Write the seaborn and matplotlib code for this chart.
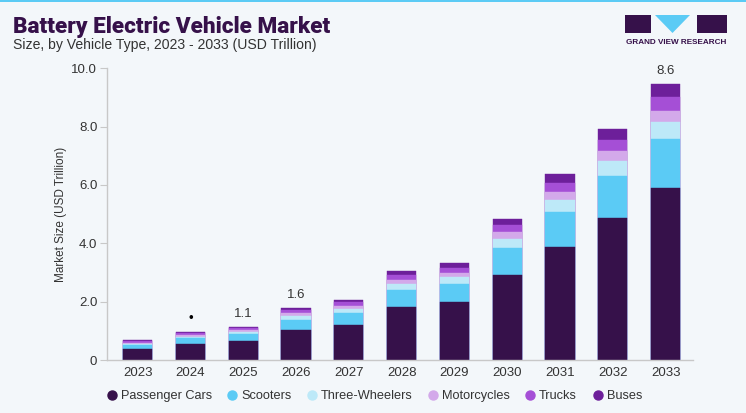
import numpy as np
import pandas as pd
import matplotlib
matplotlib.use("Agg")
import matplotlib.pyplot as plt
from matplotlib.lines import Line2D
from matplotlib.patches import Rectangle, Polygon
import seaborn as sns

years = ["2023", "2024", "2025", "2026", "2027", "2028", "2029", "2030", "2031", "2032", "2033"]
passenger_cars = [0.37, 0.55, 0.65, 1.02, 1.20, 1.81, 1.98, 2.91, 3.88, 4.87, 5.89]
scooters = [0.15, 0.20, 0.25, 0.36, 0.42, 0.60, 0.64, 0.93, 1.19, 1.44, 1.69]
three_wheelers = [0.035, 0.055, 0.07, 0.13, 0.14, 0.20, 0.23, 0.31, 0.41, 0.51, 0.59]
motorcycles = [0.035, 0.05, 0.06, 0.09, 0.10, 0.15, 0.15, 0.23, 0.27, 0.33, 0.38]
trucks = [0.045, 0.07, 0.07, 0.10, 0.12, 0.16, 0.17, 0.25, 0.33, 0.39, 0.48]
buses = [0.035, 0.045, 0.045, 0.07, 0.08, 0.14, 0.16, 0.22, 0.29, 0.37, 0.43]
bar_labels = ["", "\u2022", "1.1", "1.6", "", "", "", "", "", "", "8.6"]

segments = ["Passenger Cars", "Scooters", "Three-Wheelers", "Motorcycles", "Trucks", "Buses"]
colors = ["#36114A", "#5BCBF5", "#BDE9F8", "#D3A9EA", "#A54FD6", "#6D1F9A"]

df = pd.DataFrame({
    "year": years,
    "Passenger Cars": passenger_cars,
    "Scooters": scooters,
    "Three-Wheelers": three_wheelers,
    "Motorcycles": motorcycles,
    "Trucks": trucks,
    "Buses": buses,
})
cum = df[segments].cumsum(axis=1)
cum["year"] = df["year"]

bg = "#F3F7FA"
sns.set_style("white")
plt.rcParams["font.family"] = ["Liberation Sans", "DejaVu Sans"]

fig = plt.figure(figsize=(7.46, 4.13), dpi=100, facecolor=bg)
ax = fig.add_axes([0.1434, 0.1283, 0.929 - 0.1434, 0.8346 - 0.1283])
ax.set_facecolor(bg)

# stacked bars: draw cumulative totals from the top segment down
for seg, col in reversed(list(zip(segments, colors))):
    sns.barplot(data=cum, x="year", y=seg, color=col, width=0.55,
                saturation=1, edgecolor=col, linewidth=0.3, ax=ax)

totals = cum["Buses"].values
for i, lab in enumerate(bar_labels):
    if lab:
        ax.annotate(lab, (i, totals[i]), xytext=(0, 5), textcoords="offset points",
                    ha="center", va="bottom", fontsize=9.5,
                    color="black" if lab == "\u2022" else "#333333")

ax.set_xlim(-0.58, 10.52)
ax.set_ylim(0, 10)
ax.set_yticks([0, 2, 4, 6, 8, 10])
ax.set_yticklabels(["0", "2.0", "4.0", "6.0", "8.0", "10.0"])
ax.set_xlabel("")
ax.set_ylabel("Market Size (USD Trillion)", fontsize=8.5, color="#333333", labelpad=3)
ax.tick_params(axis="y", length=5, width=0.8, color="#C8C8C8", labelsize=9.5,
               labelcolor="#333333", pad=2, left=True)
ax.tick_params(axis="x", length=0, labelsize=9.5, labelcolor="#333333", pad=5)
for s in ["top", "right"]:
    ax.spines[s].set_visible(False)
for s in ["left", "bottom"]:
    ax.spines[s].set_color("#C8C8C8")
    ax.spines[s].set_linewidth(1)

# title block
fig.add_artist(Rectangle((0, 1 - 2 / 413), 1, 2 / 413, transform=fig.transFigure,
                         color="#5BCBF5", lw=0))
fig.text(13 / 746, 1 - 32.5 / 413, "Battery Electric Vehicle Market", fontsize=16.2,
         fontweight="black", family=["Roboto", "DejaVu Sans"], color="#36114A",
         ha="left", va="baseline")
fig.text(13 / 746, 1 - 49 / 413, "Size, by Vehicle Type, 2023 - 2033 (USD Trillion)",
         fontsize=10.1, color="#333333", ha="left", va="baseline")

# logo
def fx(x):
    return x / 746

def fy(y):
    return 1 - y / 413

fig.add_artist(Rectangle((fx(625), fy(33)), fx(26), 18 / 413, transform=fig.transFigure,
                         color="#36114A", lw=0))
fig.add_artist(Polygon([(fx(655), fy(15)), (fx(690), fy(15)), (fx(672.5), fy(33))],
                       closed=True, transform=fig.transFigure, color="#5BCBF5", lw=0))
fig.add_artist(Rectangle((fx(697), fy(33)), fx(30), 18 / 413, transform=fig.transFigure,
                         color="#36114A", lw=0))
fig.text(fx(676), fy(42), "GRAND VIEW RESEARCH", fontsize=5.9, fontweight="bold",
         color="#36114A", ha="center", va="center")

# legend
handles = [Line2D([], [], marker="o", linestyle="", markersize=6.5,
                  markerfacecolor=c, markeredgecolor=c) for c in colors]
fig.legend(handles, segments, loc="center", bbox_to_anchor=(373 / 746, 1 - 396 / 413),
           ncol=6, frameon=False, fontsize=9.2, handletextpad=0.1, columnspacing=1.0,
           handlelength=1.2, labelcolor="#333333")

fig.savefig("out.png", dpi=100, facecolor=bg)
